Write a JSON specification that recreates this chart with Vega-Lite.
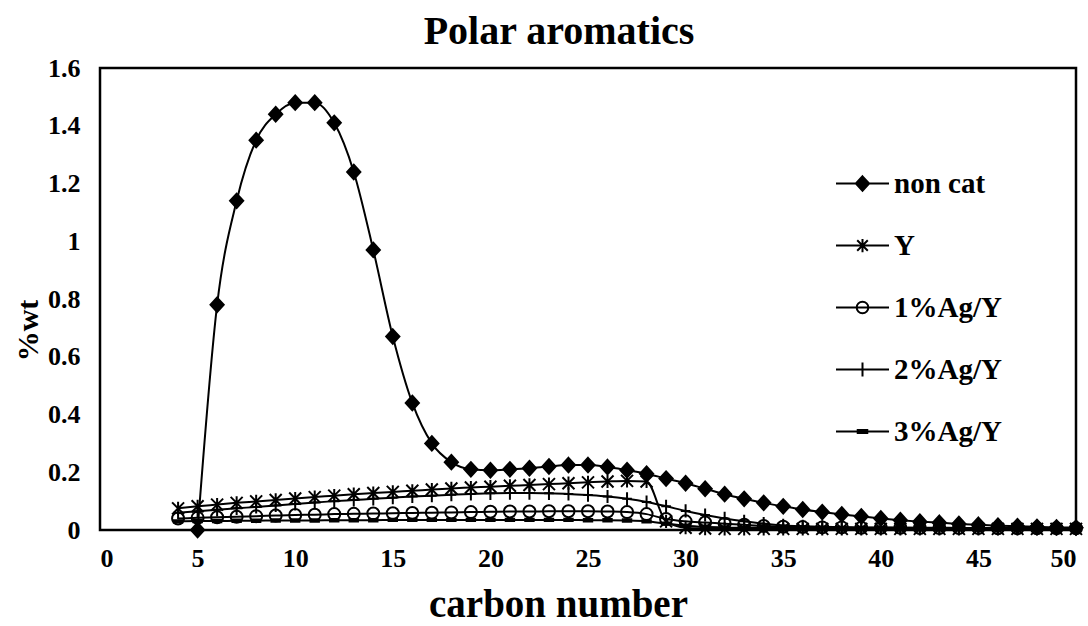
{
  "$schema": "https://vega.github.io/schema/vega-lite/v6.json",
  "autosize": "none",
  "width": 976,
  "height": 462,
  "padding": {"left": 100, "top": 68, "right": 12, "bottom": 96},
  "background": "white",
  "title": {
    "text": "Polar aromatics",
    "font": "Liberation Serif",
    "fontWeight": "bold",
    "fontSize": 40,
    "color": "black",
    "anchor": "middle",
    "frame": "group",
    "dx": -29,
    "dy": 40,
    "baseline": "alphabetic",
    "offset": 11
  },
  "config": {
    "view": {"stroke": "black", "strokeWidth": 2.5},
    "axis": {
      "grid": false,
      "domain": false,
      "ticks": false,
      "tickSize": 0,
      "labelFont": "Liberation Serif",
      "labelFontWeight": "bold",
      "labelFontSize": 26,
      "labelColor": "black",
      "titleFont": "Liberation Serif",
      "titleFontWeight": "bold",
      "titleColor": "black"
    }
  },
  "data": {
    "values": [
      {"c": 4, "Y": 0.075, "1%Ag/Y": 0.040, "2%Ag/Y": 0.060, "3%Ag/Y": 0.030},
      {"c": 5, "non cat": 0.000, "Y": 0.082, "1%Ag/Y": 0.042, "2%Ag/Y": 0.065, "3%Ag/Y": 0.031},
      {"c": 6, "non cat": 0.780, "Y": 0.088, "1%Ag/Y": 0.044, "2%Ag/Y": 0.070, "3%Ag/Y": 0.031},
      {"c": 7, "non cat": 1.140, "Y": 0.094, "1%Ag/Y": 0.046, "2%Ag/Y": 0.075, "3%Ag/Y": 0.032},
      {"c": 8, "non cat": 1.350, "Y": 0.099, "1%Ag/Y": 0.048, "2%Ag/Y": 0.080, "3%Ag/Y": 0.032},
      {"c": 9, "non cat": 1.440, "Y": 0.104, "1%Ag/Y": 0.050, "2%Ag/Y": 0.085, "3%Ag/Y": 0.033},
      {"c": 10, "non cat": 1.480, "Y": 0.109, "1%Ag/Y": 0.052, "2%Ag/Y": 0.090, "3%Ag/Y": 0.033},
      {"c": 11, "non cat": 1.480, "Y": 0.114, "1%Ag/Y": 0.053, "2%Ag/Y": 0.095, "3%Ag/Y": 0.033},
      {"c": 12, "non cat": 1.410, "Y": 0.119, "1%Ag/Y": 0.055, "2%Ag/Y": 0.100, "3%Ag/Y": 0.034},
      {"c": 13, "non cat": 1.240, "Y": 0.124, "1%Ag/Y": 0.056, "2%Ag/Y": 0.104, "3%Ag/Y": 0.034},
      {"c": 14, "non cat": 0.970, "Y": 0.128, "1%Ag/Y": 0.057, "2%Ag/Y": 0.108, "3%Ag/Y": 0.034},
      {"c": 15, "non cat": 0.670, "Y": 0.132, "1%Ag/Y": 0.058, "2%Ag/Y": 0.112, "3%Ag/Y": 0.035},
      {"c": 16, "non cat": 0.440, "Y": 0.136, "1%Ag/Y": 0.059, "2%Ag/Y": 0.116, "3%Ag/Y": 0.035},
      {"c": 17, "non cat": 0.300, "Y": 0.140, "1%Ag/Y": 0.060, "2%Ag/Y": 0.119, "3%Ag/Y": 0.035},
      {"c": 18, "non cat": 0.235, "Y": 0.144, "1%Ag/Y": 0.061, "2%Ag/Y": 0.122, "3%Ag/Y": 0.035},
      {"c": 19, "non cat": 0.210, "Y": 0.147, "1%Ag/Y": 0.062, "2%Ag/Y": 0.125, "3%Ag/Y": 0.035},
      {"c": 20, "non cat": 0.207, "Y": 0.150, "1%Ag/Y": 0.063, "2%Ag/Y": 0.127, "3%Ag/Y": 0.035},
      {"c": 21, "non cat": 0.210, "Y": 0.153, "1%Ag/Y": 0.064, "2%Ag/Y": 0.128, "3%Ag/Y": 0.035},
      {"c": 22, "non cat": 0.214, "Y": 0.156, "1%Ag/Y": 0.064, "2%Ag/Y": 0.128, "3%Ag/Y": 0.035},
      {"c": 23, "non cat": 0.220, "Y": 0.159, "1%Ag/Y": 0.065, "2%Ag/Y": 0.127, "3%Ag/Y": 0.035},
      {"c": 24, "non cat": 0.225, "Y": 0.162, "1%Ag/Y": 0.065, "2%Ag/Y": 0.125, "3%Ag/Y": 0.035},
      {"c": 25, "non cat": 0.225, "Y": 0.165, "1%Ag/Y": 0.065, "2%Ag/Y": 0.121, "3%Ag/Y": 0.034},
      {"c": 26, "non cat": 0.218, "Y": 0.168, "1%Ag/Y": 0.064, "2%Ag/Y": 0.116, "3%Ag/Y": 0.034},
      {"c": 27, "non cat": 0.207, "Y": 0.170, "1%Ag/Y": 0.062, "2%Ag/Y": 0.108, "3%Ag/Y": 0.033},
      {"c": 28, "non cat": 0.195, "Y": 0.168, "1%Ag/Y": 0.055, "2%Ag/Y": 0.097, "3%Ag/Y": 0.030},
      {"c": 29, "non cat": 0.178, "Y": 0.030, "1%Ag/Y": 0.038, "2%Ag/Y": 0.082, "3%Ag/Y": 0.022},
      {"c": 30, "non cat": 0.162, "Y": 0.008, "1%Ag/Y": 0.030, "2%Ag/Y": 0.066, "3%Ag/Y": 0.015},
      {"c": 31, "non cat": 0.143, "Y": 0.005, "1%Ag/Y": 0.026, "2%Ag/Y": 0.052, "3%Ag/Y": 0.011},
      {"c": 32, "non cat": 0.124, "Y": 0.004, "1%Ag/Y": 0.022, "2%Ag/Y": 0.040, "3%Ag/Y": 0.009},
      {"c": 33, "non cat": 0.108, "Y": 0.004, "1%Ag/Y": 0.018, "2%Ag/Y": 0.030, "3%Ag/Y": 0.008},
      {"c": 34, "non cat": 0.094, "Y": 0.004, "1%Ag/Y": 0.014, "2%Ag/Y": 0.022, "3%Ag/Y": 0.008},
      {"c": 35, "non cat": 0.082, "Y": 0.004, "1%Ag/Y": 0.011, "2%Ag/Y": 0.016, "3%Ag/Y": 0.008},
      {"c": 36, "non cat": 0.071, "Y": 0.004, "1%Ag/Y": 0.010, "2%Ag/Y": 0.013, "3%Ag/Y": 0.008},
      {"c": 37, "non cat": 0.062, "Y": 0.004, "1%Ag/Y": 0.009, "2%Ag/Y": 0.011, "3%Ag/Y": 0.007},
      {"c": 38, "non cat": 0.054, "Y": 0.004, "1%Ag/Y": 0.009, "2%Ag/Y": 0.010, "3%Ag/Y": 0.007},
      {"c": 39, "non cat": 0.047, "Y": 0.004, "1%Ag/Y": 0.008, "2%Ag/Y": 0.009, "3%Ag/Y": 0.007},
      {"c": 40, "non cat": 0.040, "Y": 0.004, "1%Ag/Y": 0.008, "2%Ag/Y": 0.009, "3%Ag/Y": 0.007},
      {"c": 41, "non cat": 0.034, "Y": 0.004, "1%Ag/Y": 0.008, "2%Ag/Y": 0.008, "3%Ag/Y": 0.007},
      {"c": 42, "non cat": 0.029, "Y": 0.004, "1%Ag/Y": 0.007, "2%Ag/Y": 0.008, "3%Ag/Y": 0.006},
      {"c": 43, "non cat": 0.025, "Y": 0.004, "1%Ag/Y": 0.007, "2%Ag/Y": 0.008, "3%Ag/Y": 0.006},
      {"c": 44, "non cat": 0.021, "Y": 0.004, "1%Ag/Y": 0.007, "2%Ag/Y": 0.007, "3%Ag/Y": 0.006},
      {"c": 45, "non cat": 0.018, "Y": 0.004, "1%Ag/Y": 0.007, "2%Ag/Y": 0.007, "3%Ag/Y": 0.006},
      {"c": 46, "non cat": 0.015, "Y": 0.004, "1%Ag/Y": 0.006, "2%Ag/Y": 0.007, "3%Ag/Y": 0.006},
      {"c": 47, "non cat": 0.013, "Y": 0.004, "1%Ag/Y": 0.006, "2%Ag/Y": 0.007, "3%Ag/Y": 0.006},
      {"c": 48, "non cat": 0.011, "Y": 0.004, "1%Ag/Y": 0.006, "2%Ag/Y": 0.007, "3%Ag/Y": 0.006},
      {"c": 49, "non cat": 0.009, "Y": 0.004, "1%Ag/Y": 0.006, "2%Ag/Y": 0.006, "3%Ag/Y": 0.006},
      {"c": 50, "non cat": 0.008, "Y": 0.004, "1%Ag/Y": 0.006, "2%Ag/Y": 0.006, "3%Ag/Y": 0.006}
    ]
  },
  "transform": [
    {"fold": ["non cat", "Y", "1%Ag/Y", "2%Ag/Y", "3%Ag/Y"], "as": ["series", "value"]}
  ],
  "encoding": {
    "x": {
      "field": "c",
      "type": "quantitative",
      "scale": {"domain": [0, 50], "nice": false, "zero": false},
      "axis": {
        "values": [0, 5, 10, 15, 20, 25, 30, 35, 40, 45, 50],
        "labelPadding": 15,
        "title": "carbon number",
        "titleFontSize": 39,
        "titleX": 458,
        "titleY": 86,
        "titleBaseline": "alphabetic",
        "titleAnchor": "middle"
      }
    },
    "y": {
      "field": "value",
      "type": "quantitative",
      "scale": {"domain": [0, 1.6], "nice": false},
      "axis": {
        "values": [0, 0.2, 0.4, 0.6, 0.8, 1, 1.2, 1.4, 1.6],
        "format": ".1~f",
        "labelPadding": 20,
        "title": "%wt",
        "titleFontSize": 30,
        "titleX": -63,
        "titleY": 262,
        "titleBaseline": "alphabetic",
        "titleAnchor": "middle"
      }
    }
  },
  "layer": [
    {
      "mark": {"type": "line", "interpolate": "monotone", "strokeWidth": 2},
      "encoding": {
        "stroke": {
          "field": "series",
          "type": "nominal",
          "scale": {
            "domain": ["non cat", "Y", "1%Ag/Y", "2%Ag/Y", "3%Ag/Y"],
            "range": ["black", "black", "black", "black", "black"]
          },
          "legend": {
            "title": null,
            "orient": "none",
            "legendX": 735,
            "legendY": 88,
            "padding": 0,
            "symbolSize": 2809,
            "symbolStrokeWidth": 2,
            "symbolStrokeColor": "black",
            "rowPadding": 19,
            "labelOffset": 4,
            "labelFont": "Liberation Serif",
            "labelFontWeight": "bold",
            "labelFontSize": 29,
            "labelColor": "black",
            "encode": {
              "symbols": {
                "update": {
                  "shape": {"signal": "datum.label == 'non cat' ? 'M-1,0H1M0,-0.27L0.25,0L0,0.27L-0.25,0Z' : datum.label == 'Y' ? 'M-1,0H1M-0.2,-0.2L0.2,0.2M-0.2,0.2L0.2,-0.2M0,-0.25V0.25' : datum.label == '1%Ag/Y' ? 'M-1,0H1M-0.22,0A0.22,0.22 0 1,0 0.22,0A0.22,0.22 0 1,0 -0.22,0' : datum.label == '2%Ag/Y' ? 'M-1,0H1M0,-0.26V0.26' : 'M-1,0H1M-0.18,-0.06H0.18V0.06H-0.18Z'"},
                  "fill": {"signal": "datum.label == '1%Ag/Y' ? 'transparent' : 'black'"}
                }
              }
            }
          }
        }
      }
    },
    {
      "mark": {"type": "point", "filled": true, "size": 144, "stroke": "black", "strokeWidth": 2, "opacity": 1},
      "encoding": {
        "shape": {
          "field": "series",
          "type": "nominal",
          "scale": {
            "domain": ["Y", "non cat", "1%Ag/Y", "2%Ag/Y", "3%Ag/Y"],
            "range": [
              "M-1,-1L1,1M-1,1L1,-1M0,-1.1V1.1",
              "M0,-1.2L1.1,0L0,1.2L-1.1,0Z",
              "M-1,0A1,1 0 1,0 1,0A1,1 0 1,0 -1,0Z",
              "M0,-1.1V1.1M-0.8,0H0.8",
              "M-0.7,-0.2H0.7V0.2H-0.7Z"
            ]
          },
          "legend": null
        },
        "fill": {
          "field": "series",
          "type": "nominal",
          "scale": {
            "domain": ["1%Ag/Y", "non cat", "Y", "2%Ag/Y", "3%Ag/Y"],
            "range": ["transparent", "black", "black", "black", "black"]
          },
          "legend": null
        }
      }
    }
  ]
}
